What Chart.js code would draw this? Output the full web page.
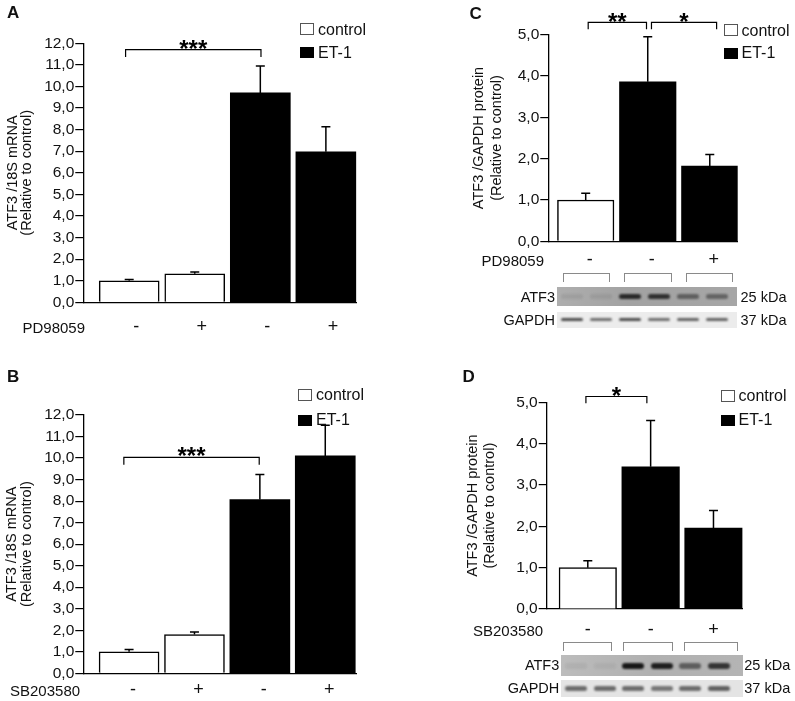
<!DOCTYPE html>
<html>
<head>
<meta charset="utf-8">
<script src="https://cdn.jsdelivr.net/npm/chart.js@4.4.1/dist/chart.umd.min.js"></script>
<style>
  body { margin: 0; background: #fff; font-family: Arial, "Liberation Sans", sans-serif; color: #111; }
  #fig { position: relative; width: 795px; height: 701px; overflow: hidden; background: #fff; }
  canvas { position: absolute; }
  .t { position: absolute; white-space: nowrap; line-height: 1; }
  .box { position: absolute; box-sizing: border-box; }
  .lane { position: absolute; box-sizing: border-box; border: 1px solid #8a8a8a; border-bottom: none; }
  .strip { position: absolute; overflow: hidden; }
  .band { position: absolute; border-radius: 3px; filter: blur(1.2px); }
</style>
</head>
<body>
<div id="fig"></div>
<script>
// ---- data ----
// panel A : ATF3 mRNA, PD98059
const aSigns = ['-', '+', '-', '+'];
const aGroups = ['control', 'control', 'ET-1', 'ET-1'];
const aMeans = [1.00, 1.32, 9.70, 6.97];
const aErrors = [0.06, 0.08, 1.25, 1.16];

// panel B : ATF3 mRNA, SB203580
const bSigns = ['-', '+', '-', '+'];
const bGroups = ['control', 'control', 'ET-1', 'ET-1'];
const bMeans = [1.00, 1.80, 8.07, 10.10];
const bErrors = [0.10, 0.12, 1.17, 1.42];

// panel C : ATF3 protein, PD98059
const cSigns = ['-', '-', '+'];
const cGroups = ['control', 'ET-1', 'ET-1'];
const cMeans = [1.00, 3.86, 1.82];
const cErrors = [0.16, 1.09, 0.28];

// panel D : ATF3 protein, SB203580
const dSigns = ['-', '-', '+'];
const dGroups = ['control', 'ET-1', 'ET-1'];
const dMeans = [1.00, 3.44, 1.96];
const dErrors = [0.17, 1.12, 0.42];

// western blot band strength (0..1), six lanes
const cAtf3Bands = [0.08, 0.08, 0.8, 0.75, 0.45, 0.42];
const cGapdhBands = [0.7, 0.55, 0.7, 0.55, 0.6, 0.6];
const dAtf3Bands = [0.06, 0.05, 0.92, 0.88, 0.5, 0.75];
const dGapdhBands = [0.55, 0.55, 0.55, 0.5, 0.55, 0.6];

const mrnaTicks = [0, 1, 2, 3, 4, 5, 6, 7, 8, 9, 10, 11, 12];
const proteinTicks = [0, 1, 2, 3, 4, 5];

const FONT = 'Arial, "Liberation Sans", sans-serif';
Chart.defaults.font.family = FONT;
Chart.defaults.color = '#111';

const fig = document.getElementById('fig');

function text(str, x, yc, size, opts = {}) {
  const d = document.createElement('div');
  d.className = 't';
  d.textContent = str;
  d.style.fontSize = size + 'px';
  d.style.top = (yc - size * 0.5) + 'px';
  d.style.left = x + 'px';
  if (opts.right) d.style.transform = 'translateX(-100%)';
  if (opts.bold) d.style.fontWeight = 'bold';
  fig.appendChild(d);
}

function legend(x, y1, y2) {
  const b1 = document.createElement('div');
  b1.className = 'box';
  Object.assign(b1.style, { left: x + 'px', top: y1 + 'px', width: '14px', height: '12px', border: '1px solid #555', background: '#fff' });
  fig.appendChild(b1);
  const b2 = document.createElement('div');
  b2.className = 'box';
  Object.assign(b2.style, { left: x + 'px', top: y2 + 'px', width: '14px', height: '11px', background: '#000' });
  fig.appendChild(b2);
  text('control', x + 18, y1 + 6.5, 16);
  text('ET-1', x + 18, y2 + 5.5, 16);
}

// error bars, drawn only upwards as in the figure
const errorBars = {
  id: 'errorBars',
  afterDatasetsDraw(chart) {
    const { ctx } = chart;
    const y = chart.scales.y;
    ctx.save();
    ctx.strokeStyle = '#000';
    ctx.lineWidth = 1.5;
    chart.data.datasets.forEach((ds, di) => {
      chart.getDatasetMeta(di).data.forEach((bar, i) => {
        const top = y.getPixelForValue(ds.data[i].y + ds.errors[i]);
        ctx.beginPath();
        ctx.moveTo(bar.x, bar.y);
        ctx.lineTo(bar.x, top);
        ctx.moveTo(bar.x - 4.5, top);
        ctx.lineTo(bar.x + 4.5, top);
        ctx.stroke();
      });
    });
    ctx.restore();
  }
};

function bracketPlugin(list) {
  return {
    id: 'brackets',
    afterDraw(chart) {
      const { ctx } = chart;
      const xs = chart.scales.x, ys = chart.scales.y;
      ctx.save();
      ctx.strokeStyle = '#000';
      ctx.lineWidth = 1.2;
      list.forEach(b => {
        const x1 = xs.getPixelForValue(b.from), x2 = xs.getPixelForValue(b.to);
        const yTop = ys.getPixelForValue(b.y), yBot = ys.getPixelForValue(b.y - b.drop);
        ctx.beginPath();
        ctx.moveTo(x1, yBot);
        ctx.lineTo(x1, yTop);
        ctx.lineTo(x2, yTop);
        ctx.lineTo(x2, yBot);
        ctx.stroke();
        ctx.fillStyle = '#000';
        ctx.font = 'bold 24px ' + FONT;
        ctx.textAlign = 'center';
        ctx.textBaseline = 'alphabetic';
        ctx.fillText(b.label, (x1 + x2) / 2, yTop + b.lift);
      });
      ctx.restore();
    }
  };
}

function makePanel(p) {
  const cv = document.createElement('canvas');
  cv.width = p.w;
  cv.height = p.h;
  cv.style.left = p.left + 'px';
  cv.style.top = p.top + 'px';
  fig.appendChild(cv);

  const series = (name) => {
    const idx = p.groups.map((g, i) => g === name ? i : -1).filter(i => i >= 0);
    return {
      data: idx.map(i => ({ x: i + 1, y: p.means[i] })),
      errors: idx.map(i => p.errors[i])
    };
  };
  const ctrl = series('control');
  const et1 = series('ET-1');

  new Chart(cv, {
    type: 'bar',
    data: {
      datasets: [
        { label: 'control', data: ctrl.data, errors: ctrl.errors, backgroundColor: '#fff', borderColor: '#000', borderWidth: 1.5 },
        { label: 'ET-1', data: et1.data, errors: et1.errors, backgroundColor: '#000', borderColor: '#000', borderWidth: 0 }
      ]
    },
    options: {
      responsive: false,
      animation: false,
      layout: { padding: { left: 0, right: p.padRight, top: p.padTop, bottom: 0 } },
      datasets: { bar: { barThickness: p.barW, grouped: false } },
      plugins: { legend: { display: false }, tooltip: { enabled: false } },
      scales: {
        x: {
          type: 'linear',
          min: p.xMin,
          max: p.xMax,
          offset: false,
          afterBuildTicks: s => { s.ticks = p.signs.map((_, i) => ({ value: i + 1 })); },
          afterFit: s => { s.height = p.xHeight; },
          grid: { display: false, drawTicks: false },
          border: { display: true, color: '#000', width: 1.3 },
          ticks: {
            autoSkip: false, maxRotation: 0, padding: p.xPad, labelOffset: p.labelOffset,
            font: { size: 18 }, color: '#111',
            callback: (v, i) => p.signs[i]
          }
        },
        y: {
          min: 0,
          max: p.yMax,
          afterBuildTicks: s => { s.ticks = p.ticks.map(v => ({ value: v })); },
          afterFit: s => { s.width = p.yWidth; },
          grid: { drawOnChartArea: false, drawTicks: true, tickLength: 8, color: '#000', lineWidth: 1.2 },
          border: { display: true, color: '#000', width: 1.3 },
          ticks: { autoSkip: false, padding: 1, font: { size: 15.5, lineHeight: 1 }, color: '#111', callback: v => v.toFixed(1).replace('.', ',') },
          title: {
            display: true,
            text: p.title,
            font: { size: 14.5, lineHeight: p.titleLH },
            padding: { top: p.titlePad, bottom: 0 },
            color: '#111'
          }
        }
      }
    },
    plugins: [errorBars, bracketPlugin(p.brackets)]
  });
}

function blot(x, y, w, h, bg, bands, bandY, bandH, laneStart, laneStep) {
  const s = document.createElement('div');
  s.className = 'strip';
  Object.assign(s.style, { left: x + 'px', top: y + 'px', width: w + 'px', height: h + 'px', background: bg });
  bands.forEach((a, i) => {
    const b = document.createElement('div');
    b.className = 'band';
    Object.assign(b.style, {
      left: (laneStart + i * laneStep - x - 11) + 'px',
      top: (bandY - y - bandH / 2) + 'px',
      width: '22px', height: bandH + 'px',
      background: 'rgba(10,10,10,' + a + ')'
    });
    s.appendChild(b);
  });
  fig.appendChild(s);
}

function lanes(y, ranges) {
  ranges.forEach(r => {
    const d = document.createElement('div');
    d.className = 'lane';
    Object.assign(d.style, { left: r[0] + 'px', top: y + 'px', width: (r[1] - r[0]) + 'px', height: '9px' });
    fig.appendChild(d);
  });
}

// ---- panel A ----
makePanel({
  left: 0, top: 0, w: 370, h: 340,
  signs: aSigns, groups: aGroups, means: aMeans, errors: aErrors,
  yMax: 12, ticks: mrnaTicks, title: ['ATF3 /18S mRNA', '(Relative to control)'],
  titleLH: 1.0, titlePad: 5.6, yWidth: 83.3, padRight: 13.3, padTop: 43.3, xHeight: 37.7,
  xMin: 0.3, xMax: 4.47, barW: 60, xPad: 14, labelOffset: 7,
  brackets: [{ from: 0.945, to: 3.01, y: 11.71, drop: 0.34, label: '***', lift: 7 }]
});
text('A', 7, 12.5, 17, { bold: true });
legend(300, 23, 47);
text('PD98059', 22.5, 327, 15);

// ---- panel B ----
makePanel({
  left: 0, top: 340, w: 370, h: 361,
  signs: bSigns, groups: bGroups, means: bMeans, errors: bErrors,
  yMax: 12, ticks: mrnaTicks, title: ['ATF3 /18S mRNA', '(Relative to control)'],
  titleLH: 1.03, titlePad: 5.0, yWidth: 83.3, padRight: 14, padTop: 75, xHeight: 27.7,
  xMin: 0.3, xMax: 4.47, barW: 60, xPad: 6, labelOffset: 4,
  brackets: [{ from: 0.92, to: 2.99, y: 10.03, drop: 0.34, label: '***', lift: 7 }]
});
text('B', 7, 376.2, 17, { bold: true });
legend(298, 388.5, 414.5);
text('SB203580', 10, 690, 15);

// ---- panel C ----
makePanel({
  left: 400, top: 0, w: 395, h: 270,
  signs: cSigns, groups: cGroups, means: cMeans, errors: cErrors,
  yMax: 5, ticks: proteinTicks, title: ['ATF3 /GAPDH protein', '(Relative to control)'],
  titleLH: 1.22, titlePad: 70.2, yWidth: 148.3, padRight: 57.3, padTop: 34.7, xHeight: 28.7,
  xMin: 0.397, xMax: 3.45, barW: 56.5, xPad: 8, labelOffset: 4,
  brackets: [
    { from: 1.04, to: 1.98, y: 5.30, drop: 0.17, label: '**', lift: 7.5 },
    { from: 2.06, to: 3.11, y: 5.30, drop: 0.17, label: '*', lift: 7.5 }
  ]
});
text('C', 469.5, 13.3, 17, { bold: true });
legend(723.5, 24, 47.5);
text('PD98059', 481.5, 260, 15);
lanes(273, [[562.7, 610], [624, 671.7], [686, 733.3]]);
blot(556.7, 286.7, 180, 19.3, 'linear-gradient(90deg,#aeaeae,#a2a2a2 40%,#a6a6a6)', cAtf3Bands, 297, 5, 571.7, 29);
blot(556.7, 311.7, 180, 16.6, '#ececec', cGapdhBands, 319.5, 3.5, 571.7, 29);
text('ATF3', 555, 297, 14.5, { right: true });
text('GAPDH', 555, 320, 14.5, { right: true });
text('25 kDa', 740.5, 297, 14.5);
text('37 kDa', 740.5, 320, 14.5);

// ---- panel D ----
makePanel({
  left: 400, top: 340, w: 395, h: 300,
  signs: dSigns, groups: dGroups, means: dMeans, errors: dErrors,
  yMax: 5, ticks: proteinTicks, title: ['ATF3 /GAPDH protein', '(Relative to control)'],
  titleLH: 1.12, titlePad: 65.3, yWidth: 146.7, padRight: 52.3, padTop: 62.3, xHeight: 31,
  xMin: 0.346, xMax: 3.465, barW: 57.5, xPad: 10, labelOffset: 0,
  brackets: [{ from: 0.97, to: 1.94, y: 5.14, drop: 0.16, label: '*', lift: 7 }]
});
text('D', 462.5, 376.7, 17, { bold: true });
legend(720.5, 389.5, 414.5);
text('SB203580', 473, 630, 15);
lanes(641.7, [[562.7, 611.7], [622.7, 672.7], [684.3, 738.3]]);
blot(560.7, 655, 182.6, 21, 'linear-gradient(90deg,#bcbcbc,#b0b0b0 50%,#b4b4b4)', dAtf3Bands, 666, 6, 576, 28.6);
blot(560.7, 680, 182.6, 16.7, '#e4e4e4', dGapdhBands, 688.3, 4.5, 576, 28.6);
text('ATF3', 559.3, 665, 14.5, { right: true });
text('GAPDH', 559.3, 688.3, 14.5, { right: true });
text('25 kDa', 744.3, 665, 14.5);
text('37 kDa', 744.3, 688.3, 14.5);
</script>
</body>
</html>
